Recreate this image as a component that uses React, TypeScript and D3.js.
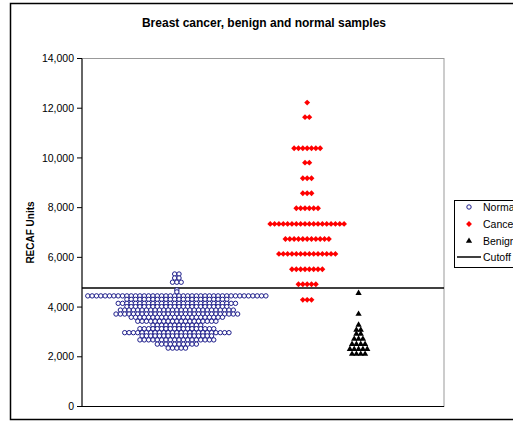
import React from "react";
import * as d3 from "d3";

// RECAF units per group: each row is a measured level and how many samples share it
const normalValues = [5330, 5170, 5000, 4690, 4610, 4450, 4310, 4150, 4015, 3880, 3720, 3590, 3430, 3270, 3130, 2970, 2840, 2680, 2510, 2350];
const normalCounts = [2, 2, 3, 1, 1, 42, 24, 28, 24, 27, 29, 22, 19, 12, 18, 25, 17, 18, 10, 5];

const cancerValues = [12225, 11640, 10390, 9810, 9180, 8580, 7975, 7345, 6740, 6140, 5520, 4920, 4290];
const cancerCounts = [1, 2, 7, 2, 3, 3, 6, 18, 11, 14, 8, 5, 3];

const benignValues = [4560, 3720, 3280, 3080, 2920, 2720, 2510, 2310, 2110];
const benignCounts = [1, 1, 1, 2, 2, 3, 4, 5, 4];

const cutoffValue = 4770;

const yTicks = [0, 2000, 4000, 6000, 8000, 10000, 12000, 14000];
const legendLabels = ["Normal", "Cancer", "Benign", "Cutoff"];
const title = "Breast cancer, benign and normal samples";
const yTitle = "RECAF Units";

const W = 513;
const H = 423;
const plot = { left: 82, right: 444, top: 58.5, bottom: 406.5 };

const x = d3.scaleLinear().domain([0, 100]).range([plot.left, plot.right]);
const y = d3.scaleLinear().domain([0, 14000]).range([plot.bottom, plot.top]);

// group centres and horizontal step between stacked markers, in x-domain units
const normalCenter = 26.2;
const cancerCenter = 62.2;
const benignCenter = 76.4;
const step = 1.2;

type Pt = { cx: number; cy: number };

function stack(values: number[], counts: number[], center: number): Pt[] {
  const pts: Pt[] = [];
  values.forEach((v, i) => {
    const n = counts[i];
    for (let k = 0; k < n; k++) {
      const off = (k - (n - 1) / 2) * step;
      pts.push({ cx: x(center + off), cy: y(v) });
    }
  });
  return pts;
}

const normalPts = stack(normalValues, normalCounts, normalCenter);
const cancerPts = stack(cancerValues, cancerCounts, cancerCenter);
const benignPts = stack(benignValues, benignCounts, benignCenter);

const diamond = d3.symbol(d3.symbolDiamond2, 22)() as string;
const triangle = d3.symbol(d3.symbolTriangle, 17)() as string;

const font = "'Liberation Sans', Arial, sans-serif";
const navy = "#1c1c8a";

export default function App() {
  const legendY = [207, 224, 241, 257];
  return (
    <div style={{ position: "fixed", left: 0, top: 0 }}>
      <svg width={W} height={H} style={{ display: "block", background: "#fff" }}>
        {/* chart frame */}
        <rect x={10.5} y={3.5} width={W} height={416} fill="#fff" stroke="#000" strokeWidth={1.5} />
        <text x={264} y={27} textAnchor="middle" fontFamily={font} fontWeight="bold" fontSize={12}>
          {title}
        </text>

        {/* plot area */}
        <rect
          x={plot.left}
          y={plot.top}
          width={plot.right - plot.left}
          height={plot.bottom - plot.top}
          fill="#fff"
          stroke="#999"
          strokeWidth={1}
        />
        <line x1={plot.left} x2={plot.left} y1={plot.top} y2={plot.bottom} stroke="#000" />
        <line x1={plot.left} x2={plot.right} y1={plot.bottom} y2={plot.bottom} stroke="#000" />

        {yTicks.map((t) => (
          <g key={t}>
            <line x1={plot.left - 5} x2={plot.left} y1={y(t)} y2={y(t)} stroke="#000" />
            <text
              x={plot.left - 8}
              y={y(t)}
              dy="0.35em"
              textAnchor="end"
              fontFamily={font}
              fontSize={10.5}
            >
              {d3.format(",")(t)}
            </text>
          </g>
        ))}
        <text
          transform={`translate(34, ${(plot.top + plot.bottom) / 2}) rotate(-90)`}
          textAnchor="middle"
          fontFamily={font}
          fontWeight="bold"
          fontSize={10}
        >
          {yTitle}
        </text>

        {/* cutoff */}
        <line x1={plot.left} x2={plot.right} y1={y(cutoffValue)} y2={y(cutoffValue)} stroke="#000" strokeWidth={1.5} />

        {normalPts.map((p, i) => (
          <circle key={`n${i}`} cx={p.cx} cy={p.cy} r={2.2} fill="#fff" stroke={navy} strokeWidth={1} />
        ))}
        {cancerPts.map((p, i) => (
          <path key={`c${i}`} d={diamond} transform={`translate(${p.cx},${p.cy})`} fill="#ff0000" />
        ))}
        {benignPts.map((p, i) => (
          <path key={`b${i}`} d={triangle} transform={`translate(${p.cx},${p.cy})`} fill="#000" />
        ))}

        {/* legend */}
        <rect x={454.5} y={200.5} width={80} height={67} fill="#fff" stroke="#000" />
        <circle cx={469} cy={legendY[0]} r={2.2} fill="#fff" stroke={navy} />
        <path d={diamond} transform={`translate(469,${legendY[1]})`} fill="#ff0000" />
        <path d={triangle} transform={`translate(469,${legendY[2]})`} fill="#000" />
        <line x1={457} x2={481} y1={legendY[3]} y2={legendY[3]} stroke="#000" strokeWidth={1.5} />
        {legendLabels.map((l, i) => (
          <text key={l} x={483} y={legendY[i]} dy="0.35em" fontFamily={font} fontSize={10.5}>
            {l}
          </text>
        ))}
      </svg>
    </div>
  );
}
